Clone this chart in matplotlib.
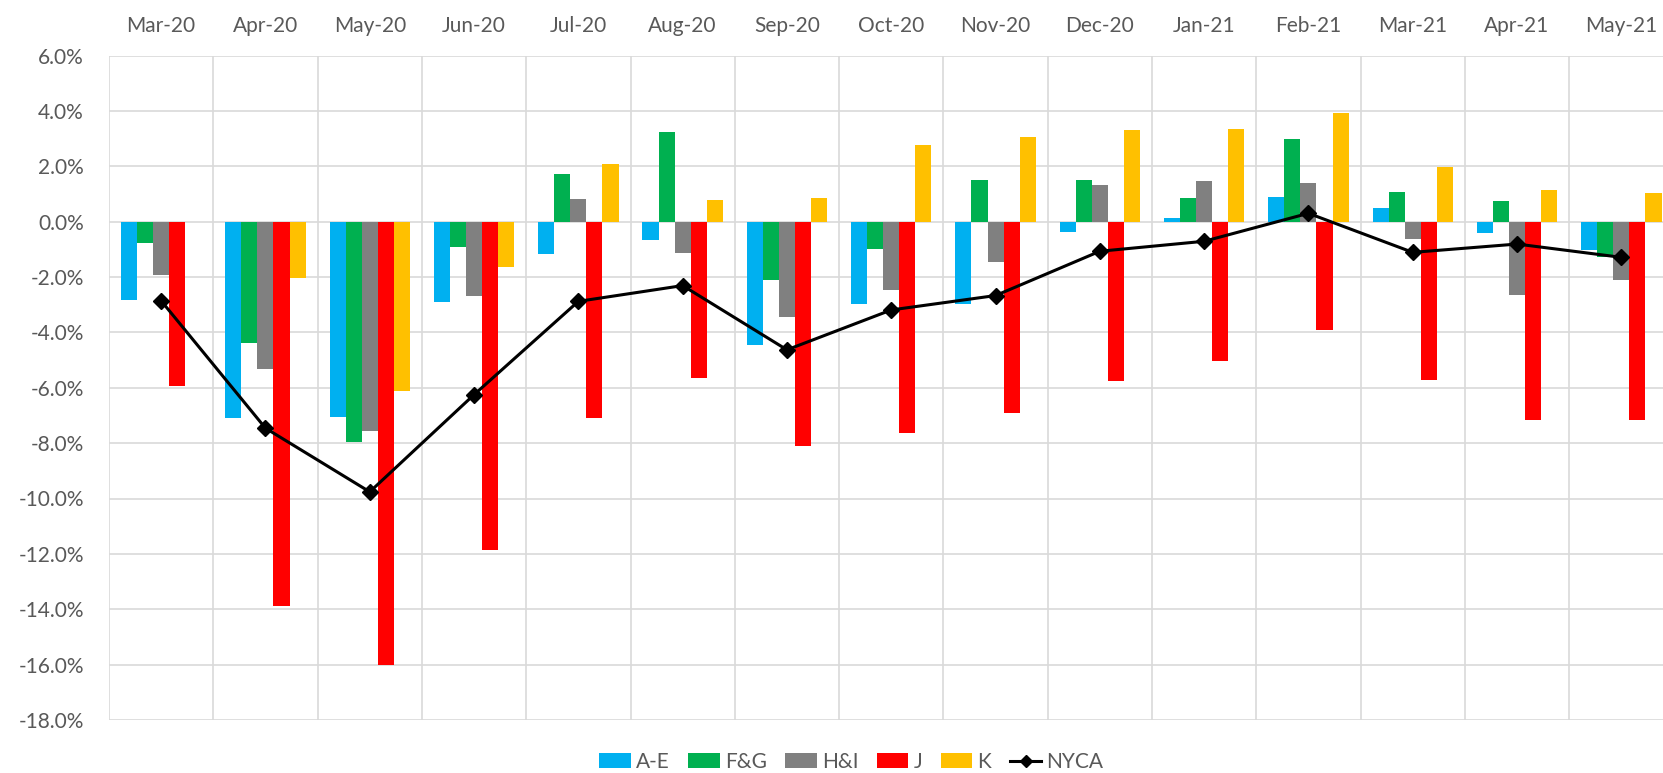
import matplotlib
matplotlib.use("Agg")
import matplotlib.pyplot as plt
import numpy as np
from matplotlib.ticker import FuncFormatter, MultipleLocator

# Monthly change by zone group (percent)
months = ['Mar-20', 'Apr-20', 'May-20', 'Jun-20', 'Jul-20', 'Aug-20', 'Sep-20', 'Oct-20',
          'Nov-20', 'Dec-20', 'Jan-21', 'Feb-21', 'Mar-21', 'Apr-21', 'May-21']
a_e = [-2.83, -7.11, -7.05, -2.89, -1.17, -0.66, -4.45, -2.97, -2.97, -0.38, 0.13, 0.88, 0.49, -0.40, -1.02]
f_g = [-0.78, -4.40, -7.96, -0.90, 1.71, 3.23, -2.10, -0.99, 1.52, 1.52, 0.86, 2.99, 1.06, 0.75, -1.29]
h_i = [-1.93, -5.33, -7.58, -2.70, 0.83, -1.14, -3.43, -2.47, -1.46, 1.34, 1.47, 1.39, -0.64, -2.64, -2.10]
j = [-5.92, -13.90, -16.00, -11.85, -7.08, -5.66, -8.10, -7.64, -6.93, -5.75, -5.05, -3.92, -5.72, -7.17, -7.17]
k = [0.0, -2.04, -6.12, -1.65, 2.07, 0.78, 0.86, 2.78, 3.05, 3.31, 3.36, 3.93, 1.96, 1.16, 1.02]
nyca = [-2.86, -7.46, -9.76, -6.25, -2.88, -2.31, -4.63, -3.19, -2.67, -1.07, -0.71, 0.30, -1.11, -0.81, -1.29]

series = [('A-E', a_e, '#00B0F0'), ('F&G', f_g, '#00B050'), ('H&I', h_i, '#808080'),
          ('J', j, '#FF0000'), ('K', k, '#FFC000')]

plt.rcParams['font.family'] = ['Lato', 'DejaVu Sans']
text_color = '#595959'

fig = plt.figure(figsize=(16.63, 7.73), dpi=100)
# plot area runs past the right edge, like the cropped original
ax = fig.add_axes([109 / 1663, 1 - 720 / 773, 1564.5 / 1663, 664.5 / 773])

x = np.arange(len(months))
bw = 0.154
handles = []
for i, (name, vals, col) in enumerate(series):
    h = ax.bar(x + (i - 2) * bw, vals, width=bw, color=col, label=name, zorder=2)
    handles.append(h)

line, = ax.plot(x, nyca, color='black', lw=2.2, marker='D', markersize=8, label='NYCA', zorder=3)
handles.append(line)

ax.set_xlim(-0.5, len(months) - 0.5)
ax.set_ylim(-18, 6)
ax.yaxis.set_major_locator(MultipleLocator(2))
ax.yaxis.set_major_formatter(FuncFormatter(lambda v, p: f'{v:.1f}%'))

ax.xaxis.tick_top()
ax.set_xticks(x)
ax.set_xticklabels(months)
ax.set_xticks(np.arange(-0.5, len(months), 1), minor=True)
ax.tick_params(axis='x', which='major', length=0, pad=14, labelsize=15, labelcolor=text_color)
ax.tick_params(axis='x', which='minor', length=0)
ax.tick_params(axis='y', length=0, pad=18, labelsize=15, labelcolor=text_color)

ax.grid(axis='y', which='major', color='#D9D9D9', lw=1.2, zorder=0)
ax.grid(axis='x', which='minor', color='#D9D9D9', lw=1.2, zorder=0)
for s in ax.spines.values():
    s.set_visible(False)

leg = fig.legend(handles=handles, labels=[s[0] for s in series] + ['NYCA'],
                 loc='center', bbox_to_anchor=(0.512, 1 - 762 / 773), ncol=6, frameon=False,
                 fontsize=15, labelcolor=text_color, handlelength=1.5, handleheight=0.7,
                 handletextpad=0.25, columnspacing=0.9)
for lh in leg.legend_handles:
    if hasattr(lh, 'set_markersize'):
        lh.set_markersize(6)

fig.savefig('out.png', dpi=100)
